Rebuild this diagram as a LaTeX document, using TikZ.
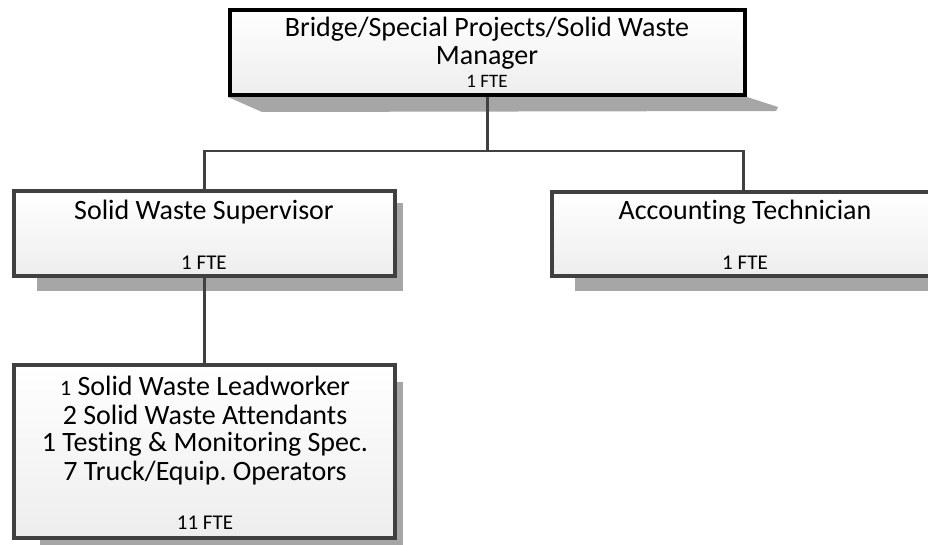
\documentclass[tikz,border=0pt]{standalone}
\usepackage{fontspec}
\setmainfont{Carlito}[Ligatures=NoCommon]
\frenchspacing
\definecolor{edge}{HTML}{404040}
\definecolor{shade}{HTML}{A6A6A6}
\begin{document}
\begin{tikzpicture}[x=1pt,y=-1pt,
  box/.style={draw=edge,line width=3.5pt,top color=white,bottom color=black!7,inner sep=0pt},
  topbox/.style={box,draw=black,line width=4pt},
  shadowfill/.style={fill=shade,draw=none},
  link/.style={draw=edge,line width=2.5pt},
  big/.style={font=\fontsize{28}{30}\selectfont,inner sep=0pt},
  small/.style={font=\fontsize{21}{24}\selectfont,inner sep=0pt},
  tiny/.style={font=\fontsize{19}{22}\selectfont,inner sep=0pt}]
\useasboundingbox (0,0) rectangle (928,545);
% shadows
\fill[shadowfill] (228,97) -- (747,97) -- (778,107) -- (776,111) -- (262,112) -- cycle;
\fill[shadowfill] (37,203) rectangle (403,291);
\fill[shadowfill] (575,203) rectangle (940,291);
\fill[shadowfill] (40,382) rectangle (403,552);
% boxes
\node[topbox,minimum width=515pt,minimum height=85pt] (top) at (487.5,52.5) {};
\node[box,minimum width=381pt,minimum height=85pt] (sup) at (204.5,233.5) {};
\node[box,minimum width=383pt,minimum height=84pt] (acc) at (743.5,234) {};
\node[box,minimum width=381pt,minimum height=173pt] (crew) at (204.5,451.5) {};
% texts
\node[big] (t1) at (487,29) {Bridge/Special Projects/Solid Waste};
\node[big] (t2) at (487,58) {Manager};
\node[tiny] (t3) at (487,81) {1 FTE};
\node[big] (s1) at (204,212) {Solid Waste Supervisor};
\node[small] (s2) at (204,263) {1 FTE};
\node[big] (a1) at (745,212) {Accounting Technician};
\node[small] (a2) at (745,263) {1 FTE};
\node[big] (c1) at (205,386) {{\fontsize{22}{24}\selectfont 1} Solid Waste Leadworker};
\node[big] (c2) at (205,415) {2 Solid Waste Attendants};
\node[big] (c3) at (205,444) {1 Testing \& Monitoring Spec.};
\node[big] (c4) at (205,473) {7 Truck/Equip. Operators};
\node[small] (c5) at (205,523) {11 FTE};
% connectors
\coordinate (bus) at (487.5,151);
\draw[link] (top.south) -- (bus);
\draw[link] (sup.north) |- (bus) -| (acc.north);
\draw[link] (sup.south) -- (crew.north);
\end{tikzpicture}
\end{document}
